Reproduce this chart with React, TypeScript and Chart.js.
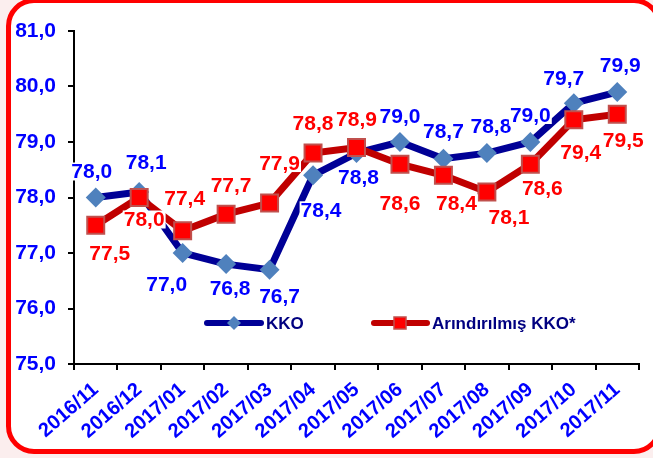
import React, { useEffect, useRef } from "react";
import { Chart, registerables } from "chart.js";

Chart.register(...registerables);

const categories = [
  "2016/11", "2016/12", "2017/01", "2017/02", "2017/03", "2017/04", "2017/05",
  "2017/06", "2017/07", "2017/08", "2017/09", "2017/10", "2017/11",
];
const kko = [78.0, 78.1, 77.0, 76.8, 76.7, 78.4, 78.8, 79.0, 78.7, 78.8, 79.0, 79.7, 79.9];
const arindirilmis = [77.5, 78.0, 77.4, 77.7, 77.9, 78.8, 78.9, 78.6, 78.4, 78.1, 78.6, 79.4, 79.5];
const yTicks = [75, 76, 77, 78, 79, 80, 81];

// label offsets (style): [dx, dy] relative to each point
const kkoLabelOffsets = [
  [-4, -26], [7, -30], [-16, 31], [4, 24], [10, 27], [8, 35], [2, 24],
  [0, -26], [0, -27], [4, -27], [0, -27], [-10, -25], [3, -27],
];
const arLabelOffsets = [
  [14, 28], [5, 22], [2, -33], [5, -29], [10, -40], [0, -30], [0, -28],
  [0, 39], [13, 28], [22, 25], [12, 24], [7, 32], [6, 26],
];

const fmt = (v: number) => v.toFixed(1).replace(".", ",");
const FONT = "Arial, 'Liberation Sans', sans-serif";

const labelsPlugin = {
  id: "valueLabels",
  afterDatasetsDraw(chart: any) {
    const ctx = chart.ctx;
    ctx.save();
    ctx.font = `bold 21px ${FONT}`;
    ctx.textAlign = "center";
    ctx.textBaseline = "middle";
    const cfg = [
      { ds: 0, color: "#0000FF", offs: kkoLabelOffsets },
      { ds: 1, color: "#FF0000", offs: arLabelOffsets },
    ];
    cfg.forEach(({ ds, color, offs }) => {
      const meta = chart.getDatasetMeta(ds);
      const data = chart.data.datasets[ds].data as number[];
      meta.data.forEach((pt: any, i: number) => {
        const t = fmt(data[i]);
        const w = ctx.measureText(t).width;
        const x = pt.x + offs[i][0];
        const y = pt.y + offs[i][1];
        ctx.fillStyle = "#FFFFFF";
        ctx.fillRect(x - w / 2 - 1, y - 9, w + 2, 18);
        ctx.fillStyle = color;
        ctx.fillText(t, x, y + 1);
      });
    });
    ctx.restore();
  },
};

const legendPlugin = {
  id: "innerLegend",
  afterDraw(chart: any) {
    const ctx = chart.ctx;
    const y = chart.chartArea.bottom - 41;
    ctx.save();
    ctx.lineCap = "round";
    // KKO
    ctx.strokeStyle = "#000096";
    ctx.lineWidth = 6;
    ctx.beginPath();
    ctx.moveTo(207, y);
    ctx.lineTo(261, y);
    ctx.stroke();
    ctx.fillStyle = "#4F81BD";
    ctx.beginPath();
    ctx.moveTo(234 - 7, y);
    ctx.lineTo(234, y - 7);
    ctx.lineTo(234 + 7, y);
    ctx.lineTo(234, y + 7);
    ctx.closePath();
    ctx.fill();
    // Arındırılmış
    ctx.strokeStyle = "#C00000";
    ctx.beginPath();
    ctx.moveTo(374, y);
    ctx.lineTo(427, y);
    ctx.stroke();
    ctx.fillStyle = "#FF0000";
    ctx.fillRect(400 - 6, y - 6, 12, 12);
    ctx.strokeStyle = "#C0504D";
    ctx.lineWidth = 1.5;
    ctx.strokeRect(400 - 6, y - 6, 12, 12);
    ctx.font = `bold 17px ${FONT}`;
    ctx.fillStyle = "#000080";
    ctx.textAlign = "left";
    ctx.textBaseline = "middle";
    ctx.fillText("KKO", 266, y + 1);
    ctx.fillText("Arındırılmış KKO*", 432, y + 1);
    ctx.restore();
  },
};

export default function App() {
  const canvasRef = useRef<HTMLCanvasElement | null>(null);

  useEffect(() => {
    document.body.style.margin = "0";
    document.body.style.overflow = "hidden";
    document.body.style.background = "#fbeeee";
    const canvas = canvasRef.current;
    if (!canvas) return;
    const chart = new Chart(canvas, {
      type: "line",
      data: {
        labels: categories,
        datasets: [
          {
            label: "KKO",
            data: kko,
            borderColor: "#000096",
            borderWidth: 7,
            pointStyle: "rectRot",
            pointRadius: 10,
            pointBackgroundColor: "#4F81BD",
            pointBorderColor: "#4F81BD",
            pointBorderWidth: 0,
            tension: 0,
            order: 2,
          },
          {
            label: "Arındırılmış KKO*",
            data: arindirilmis,
            borderColor: "#C00000",
            borderWidth: 7,
            pointStyle: "rect",
            pointRadius: 12,
            pointBackgroundColor: "#FF0000",
            pointBorderColor: "#C0504D",
            pointBorderWidth: 2,
            tension: 0,
            order: 1,
          },
        ],
      },
      options: {
        responsive: false,
        animation: false,
        layout: { padding: { left: 0, right: 4, top: 31, bottom: 0 } },
        plugins: {
          legend: { display: false },
          tooltip: { enabled: false },
        },
        scales: {
          x: {
            offset: true,
            grid: {
              offset: true,
              drawOnChartArea: false,
              drawTicks: true,
              tickLength: 6,
              color: "#000",
              lineWidth: 2,
            },
            border: { display: true, color: "#000", width: 2 },
            ticks: {
              color: "#0000FF",
              font: { family: FONT, size: 20, weight: "bold" },
              minRotation: 41,
              maxRotation: 41,
              padding: 8,
              autoSkip: false,
            },
            afterFit: (s: any) => {
              s.height = 94;
            },
          },
          y: {
            min: yTicks[0],
            max: yTicks[yTicks.length - 1],
            afterBuildTicks: (s: any) => {
              s.ticks = yTicks.map((v) => ({ value: v }));
            },
            grid: {
              drawOnChartArea: false,
              drawTicks: true,
              tickLength: 6,
              color: "#000",
              lineWidth: 2,
            },
            border: { display: true, color: "#000", width: 2 },
            ticks: {
              color: "#0000FF",
              font: { family: FONT, size: 21, weight: "bold" },
              padding: 12,
              callback: (v: any) => fmt(Number(v)),
            },
            afterFit: (s: any) => {
              s.width = 74;
            },
          },
        },
      },
      plugins: [labelsPlugin, legendPlugin],
    } as any);
    return () => chart.destroy();
  }, []);

  return (
    <div style={{ position: "relative", width: 653, height: 458, overflow: "hidden" }}>
      <div
        style={{
          position: "absolute",
          left: 6,
          top: -2,
          width: 656,
          height: 456,
          boxSizing: "border-box",
          border: "5px solid #FF0000",
          borderRadius: 28,
          background: "#FFFFFF",
        }}
      />
      <canvas
        ref={canvasRef}
        width={653}
        height={458}
        style={{ position: "absolute", left: 0, top: 0, width: 653, height: 458 }}
      />
    </div>
  );
}
